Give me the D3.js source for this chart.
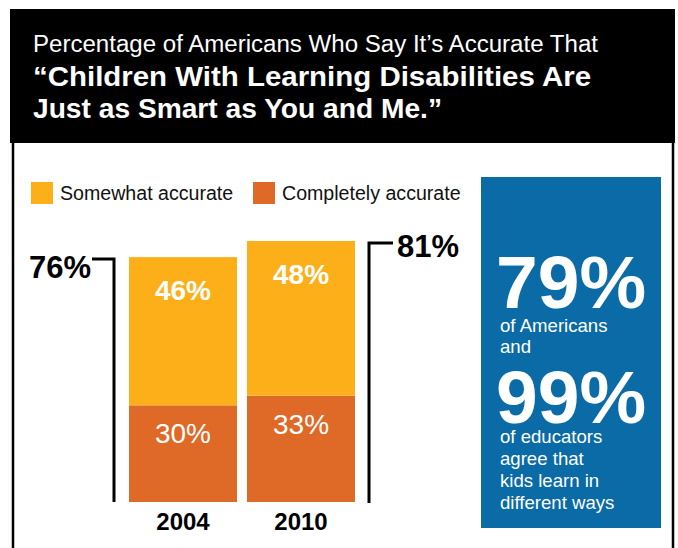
<!DOCTYPE html>
<html>
<head>
<meta charset="utf-8">
<script src="https://cdn.jsdelivr.net/npm/d3@7"></script>
<style>
  html, body { margin: 0; padding: 0; background: #fff; }
  svg { display: block; font-family: "Liberation Sans", Arial, Helvetica, sans-serif; }
</style>
</head>
<body>
<svg id="chart" width="678" height="548"></svg>
<script>
// ---- data ----
const years = ["2004", "2010"];
const seriesNames = ["Completely accurate", "Somewhat accurate"];
const completely = [30, 33];
const somewhat = [46, 48];
const totals = [76, 81];
const legendLabels = ["Somewhat accurate", "Completely accurate"];
const titleLines = ["Percentage of Americans Who Say It\u2019s Accurate That",
                    "\u201cChildren With Learning Disabilities Are",
                    "Just as Smart as You and Me.\u201d"];
const sideStats = ["79%", "99%"];
const sideText1 = ["of Americans", "and"];
const sideText2 = ["of educators", "agree that", "kids learn in", "different ways"];

const colors = { "Somewhat accurate": "#FDAF19", "Completely accurate": "#DF6927" };

const svg = d3.select("#chart");

// ---- frame ----
svg.append("rect").attr("x", 10).attr("y", 9).attr("width", 665).attr("height", 134).attr("fill", "#000");
svg.append("line").attr("x1", 13).attr("x2", 13).attr("y1", 143).attr("y2", 548).attr("stroke", "#000").attr("stroke-width", 2.5);
svg.append("line").attr("x1", 673).attr("x2", 673).attr("y1", 143).attr("y2", 548).attr("stroke", "#000").attr("stroke-width", 2.5);

// ---- title ----
const titleSpec = [
  { y: 52, size: 23, weight: "normal", len: 565 },
  { y: 86, size: 28.5, weight: "bold", len: 558 },
  { y: 118, size: 28.5, weight: "bold", len: 409 }
];
titleLines.forEach((t, i) => {
  svg.append("text").attr("x", 33).attr("y", titleSpec[i].y)
    .attr("fill", "#fff").attr("font-size", titleSpec[i].size).attr("font-weight", titleSpec[i].weight)
    .attr("textLength", titleSpec[i].len).attr("lengthAdjust", "spacingAndGlyphs")
    .text(t);
});

// ---- legend ----
const legendX = [31, 253];
legendLabels.forEach((l, i) => {
  svg.append("rect").attr("x", legendX[i]).attr("y", 182).attr("width", 22).attr("height", 22).attr("fill", colors[l]);
  svg.append("text").attr("x", legendX[i] + 29).attr("y", 200).attr("font-size", 19.6).attr("fill", "#111").text(l);
});

// ---- scales ----
const x = d3.scaleBand().domain(years).range([129, 355]).paddingInner(0.085).paddingOuter(0);
const y = d3.scaleLinear().domain([0, 81]).range([502, 241]);

const rows = years.map((yr, i) => ({ year: yr, "Completely accurate": completely[i], "Somewhat accurate": somewhat[i] }));
const stacked = d3.stack().keys(seriesNames)(rows);

const g = svg.append("g");
stacked.forEach(layer => {
  g.selectAll(null).data(layer).join("rect")
    .attr("x", d => x(d.data.year))
    .attr("width", x.bandwidth())
    .attr("y", d => y(d[1]))
    .attr("height", d => y(d[0]) - y(d[1]))
    .attr("fill", colors[layer.key]);
  g.selectAll(null).data(layer).join("text")
    .attr("x", d => x(d.data.year) + x.bandwidth() / 2)
    .attr("y", d => y(d[1]) + (layer.key === "Somewhat accurate" ? 43 : 38))
    .attr("text-anchor", "middle")
    .attr("fill", "#fff")
    .attr("font-size", 28)
    .attr("font-weight", layer.key === "Somewhat accurate" ? "bold" : "normal")
    .text(d => (d[1] - d[0]) + "%");
});

// ---- x axis labels ----
years.forEach(yr => {
  svg.append("text").attr("x", x(yr) + x.bandwidth() / 2).attr("y", 530)
    .attr("text-anchor", "middle").attr("font-size", 24).attr("font-weight", "bold").attr("fill", "#000").text(yr);
});

// ---- brackets ----
const yl = y(totals[0]) + 2;
svg.append("path").attr("d", `M92,${yl} H114 V502`).attr("fill", "none").attr("stroke", "#000").attr("stroke-width", 3);
svg.append("text").attr("x", 91).attr("y", yl + 19).attr("text-anchor", "end")
  .attr("font-size", 31).attr("font-weight", "bold").attr("fill", "#000").text(totals[0] + "%");
const yr2 = y(totals[1]) + 2;
svg.append("path").attr("d", `M393,${yr2} H369 V503`).attr("fill", "none").attr("stroke", "#000").attr("stroke-width", 3);
svg.append("text").attr("x", 397).attr("y", yr2 + 14).attr("text-anchor", "start")
  .attr("font-size", 31).attr("font-weight", "bold").attr("fill", "#000").text(totals[1] + "%");

// ---- side panel ----
svg.append("rect").attr("x", 481).attr("y", 177).attr("width", 180).attr("height", 351).attr("fill", "#0A6BA6");
const bigY = [308, 423];
sideStats.forEach((s, i) => {
  svg.append("text").attr("x", 496).attr("y", bigY[i]).attr("font-size", 75).attr("font-weight", "bold")
    .attr("fill", "#fff").text(s);
});
const t1Y = [332, 353];
sideText1.forEach((t, i) => {
  svg.append("text").attr("x", 500).attr("y", t1Y[i]).attr("font-size", 18.6).attr("fill", "#fff").text(t);
});
sideText2.forEach((t, i) => {
  svg.append("text").attr("x", 500).attr("y", 443 + i * 22).attr("font-size", 18.6).attr("fill", "#fff").text(t);
});
</script>
</body>
</html>
